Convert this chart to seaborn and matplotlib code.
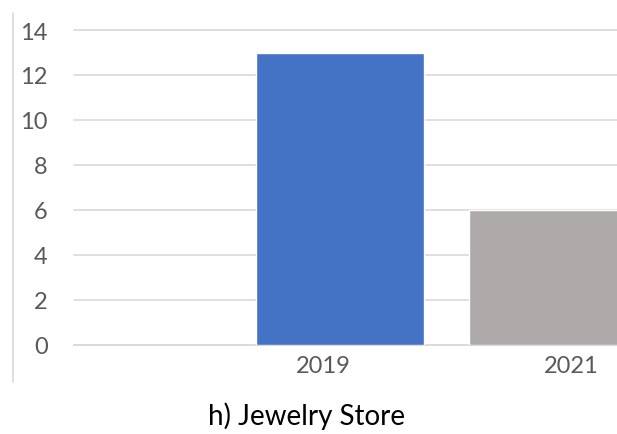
import matplotlib
matplotlib.use("Agg")
import matplotlib.pyplot as plt
import seaborn as sns
import pandas as pd
from matplotlib.lines import Line2D

years = ["2019", "2021"]
counts = [13, 6]
bar_colors = ["#4472C4", "#AEAAAA"]
y_ticks = [0, 2, 4, 6, 8, 10, 12, 14]
title = "h) Jewelry Store"

df = pd.DataFrame({"year": years, "count": counts})

sns.set_theme(style="white")
plt.rcParams["font.family"] = ["Lato", "DejaVu Sans"]

fig = plt.figure(figsize=(6.17, 4.35), dpi=100)
ax = fig.add_axes([74 / 617, 1 - 346 / 435, 1 - 74 / 617, (346 - 31) / 435])

sns.barplot(data=df, x="year", y="count", hue="year", order=years,
            palette=bar_colors, width=0.79, legend=False, ax=ax,
            saturation=1, zorder=3)

ax.set_xlim(-1.25, 1.30)
ax.set_ylim(0, 14)
ax.set_yticks(y_ticks)
ax.set_yticklabels([str(v) for v in y_ticks])
ax.yaxis.grid(True, color="#D9D9D9", linewidth=1.2, zorder=0)
ax.set_axisbelow(True)
for s in ax.spines.values():
    s.set_visible(False)
ax.spines["bottom"].set_visible(True)
ax.spines["bottom"].set_color("#D9D9D9")
ax.spines["bottom"].set_linewidth(1.2)

# label offsets relative to bar centres (as in the source image)
ax.set_xticks([-0.08, 1.085])
ax.set_xticklabels(years)
ax.tick_params(axis="x", length=0, pad=7, labelsize=17, labelcolor="#595959")
ax.tick_params(axis="y", length=0, pad=19, labelsize=17, labelcolor="#595959")
ax.set_xlabel("")
ax.set_ylabel("")
for gl in ax.get_ygridlines():
    gl.set_clip_on(False)

fig.add_artist(Line2D([13 / 617, 13 / 617], [1 - 14 / 435, 1 - 383 / 435],
                      transform=fig.transFigure, color="#D9D9D9", linewidth=1.2))

fig.text(307 / 617, 1 - 425 / 435, title, ha="center", va="baseline",
         fontsize=20, color="black")

fig.savefig("out.png", dpi=100)
